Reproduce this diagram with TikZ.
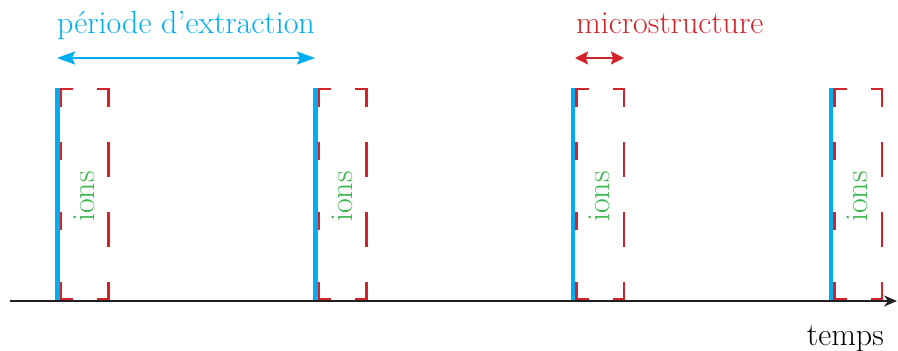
\documentclass[tikz,border=0pt]{standalone}
\usetikzlibrary{arrows.meta}
\definecolor{cblue}{HTML}{00AEEF}
\definecolor{cred}{HTML}{D2232A}
\definecolor{cgreen}{HTML}{3AB54A}
\definecolor{caxis}{HTML}{231F20}
\tikzset{
  bigtext/.style={font=\fontsize{32}{38}\selectfont, inner sep=0pt},
  pulse/.style={draw=cblue, line width=4.5pt},
  ionbox/.style={draw=cred, line width=2.5pt},
  axisline/.style={draw=caxis, line width=2pt, -{Stealth[length=13pt,width=11pt]}},
}
\begin{document}
\begin{tikzpicture}[x=1pt,y=-1pt]
\useasboundingbox (0,0) rectangle (898,351);
% time axis
\coordinate (ax0) at (10,301);
\coordinate (ax1) at (897,301);
\draw[axisline] (ax0) -- (ax1);
\node[bigtext, anchor=base east] (temps) at (884,345) {temps};
% pulses and ion boxes
\foreach \b/\n in {57.5/a,315.5/b,573/c,831/d}{
  \coordinate (top\n) at (\b,88);
  \coordinate (bot\n) at (\b,300);
  \draw[pulse] (top\n) -- (bot\n);
  \draw[ionbox] (\b+3.5,107) -- (\b+3.5,89) -- (\b+15.5,89);
  \draw[ionbox] (\b+39.5,89) -- (\b+51,89) -- (\b+51,107);
  \draw[ionbox] (\b+3.5,282) -- (\b+3.5,299) -- (\b+15.5,299);
  \draw[ionbox] (\b+39.5,299) -- (\b+51,299) -- (\b+51,282);
  \draw[ionbox] (\b+3.5,142) -- (\b+3.5,160);
  \draw[ionbox] (\b+3.5,212) -- (\b+3.5,230);
  \draw[ionbox] (\b+51,142) -- (\b+51,177);
  \draw[ionbox] (\b+51,212) -- (\b+51,247);
  \node[bigtext, text=cgreen, rotate=90, anchor=base] (ions\n) at (\b+36.5,196.5) {ions};
}
% period of extraction
\node[bigtext, text=cblue, anchor=base west] (periode) at (57,33) {période d’extraction};
\coordinate (pa) at (57,58);
\coordinate (pb) at (315,58);
\draw[cblue, line width=2pt, {Stealth[length=18pt,width=13pt,inset=3pt]}-{Stealth[length=18pt,width=13pt,inset=3pt]}] (pa) -- (pb);
% microstructure
\node[bigtext, text=cred, anchor=base west] (micro) at (576,33) {microstructure};
\coordinate (ma) at (575,58);
\coordinate (mb) at (624,58);
\draw[cred, line width=2pt, {Stealth[length=13pt,width=13pt,inset=2pt]}-{Stealth[length=13pt,width=13pt,inset=2pt]}] (ma) -- (mb);
\end{tikzpicture}
\end{document}
